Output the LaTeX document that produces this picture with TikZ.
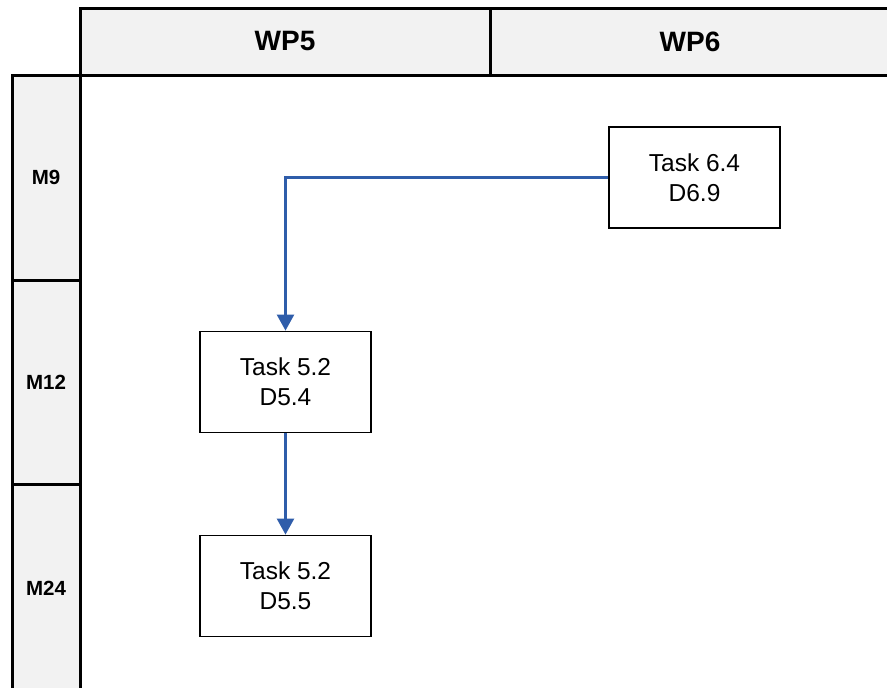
\documentclass[tikz,border=0pt]{standalone}
\usepackage{fontspec}
\setmainfont{Liberation Sans}
\usetikzlibrary{arrows.meta}
\definecolor{hdrgray}{HTML}{F2F2F2}
\definecolor{arrowblue}{RGB}{47,93,170}
\begin{document}
\begin{tikzpicture}[x=1pt,y=-1pt,
 cell/.style={draw=black,line width=3pt,fill=hdrgray,inner sep=0pt,outer sep=0pt},
 hdr/.style={cell,font=\fontsize{28}{32}\selectfont\bfseries},
 rowlbl/.style={cell,minimum width=68pt,font=\fontsize{20.5}{24}\selectfont\bfseries},
 task/.style={draw=black,line width=1.8pt,fill=white,minimum width=171pt,minimum height=101pt,align=center,inner sep=0pt,font=\fontsize{24.5}{30}\selectfont},
 link/.style={draw=arrowblue,line width=2.5pt,-{Triangle[length=16pt,width=17pt]}}]
\useasboundingbox (0,0) rectangle (887,688);
\clip (0,0) rectangle (887,688);
% column headers
\node[hdr,minimum width=410pt,minimum height=67pt] (wp5) at (285,41.5) {WP5};
\node[hdr,minimum width=400pt,minimum height=67pt] (wp6) at (690,41.5) {WP6};
% row headers
\node[rowlbl,minimum height=205pt] (m9) at (46,177.5) {M9};
\node[rowlbl,minimum height=204pt] (m12) at (46,382) {M12};
\node[rowlbl,minimum height=208pt] (m24) at (46,588) {M24};
% tasks
\node[task] (t64) at (694.5,177.5) {Task 6.4\\D6.9};
\node[task] (t54) at (285.5,382) {Task 5.2\\D5.4};
\node[task] (t55) at (285.5,586) {Task 5.2\\D5.5};
% connectors
\draw[link] (t64.west) -| (t54.north);
\draw[link] (t54.south) -- (t55.north);
\end{tikzpicture}
\end{document}
